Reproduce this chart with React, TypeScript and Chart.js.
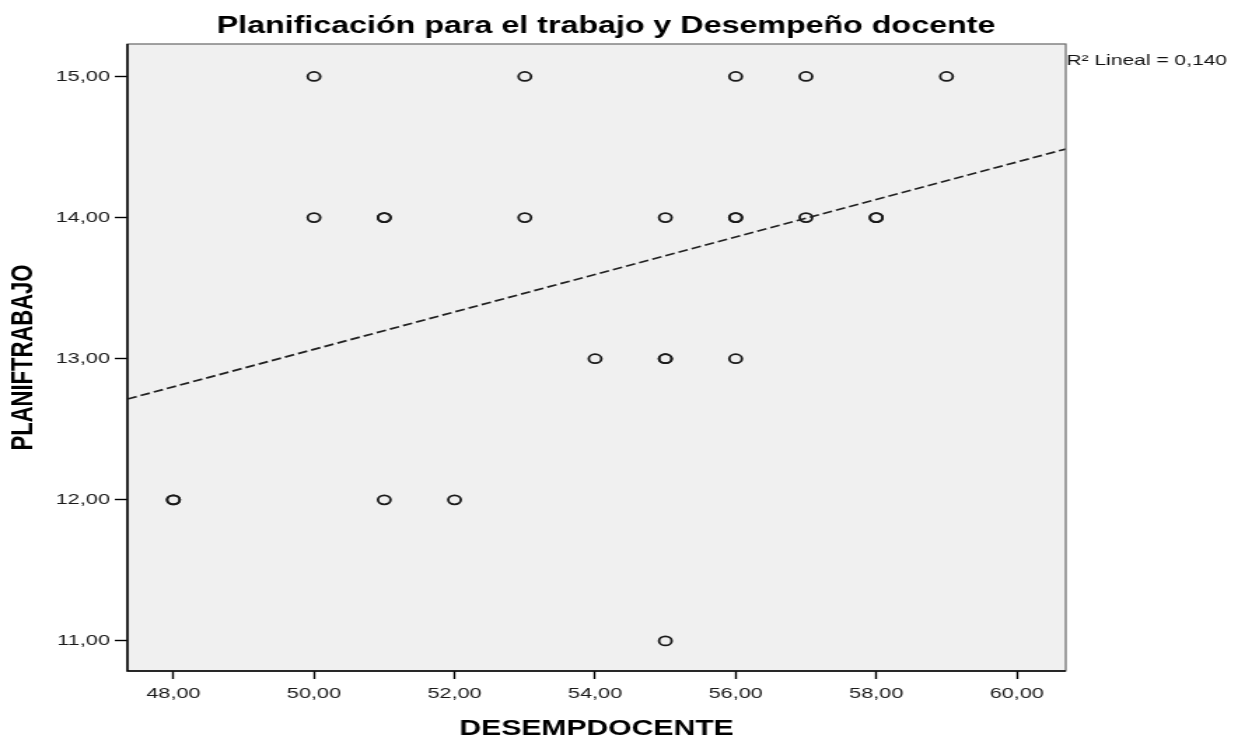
import React, { useEffect, useRef } from "react";
import { Chart, registerables } from "chart.js";

Chart.register(...registerables);

const TITLE = "Planificación para el trabajo y Desempeño docente";
const X_TITLE = "DESEMPDOCENTE";
const Y_TITLE = "PLANIFTRABAJO";
const FIT_LABEL = "R² Lineal = 0,140";

// observed points (repeated pairs are overlapping cases)
const DESEMP = [50, 53, 56, 57, 59, 50, 51, 51, 53, 55, 56, 56, 57, 58, 58, 54, 55, 55, 56, 48, 48, 51, 52, 55];
const PLANIF = [15, 15, 15, 15, 15, 14, 14, 14, 14, 14, 14, 14, 14, 14, 14, 13, 13, 13, 13, 12, 12, 12, 12, 11];

// fitted line end points
const FIT_X = [47.346, 60.697];
const FIT_Y = [12.714, 14.486];

const X_TICKS = [48, 50, 52, 54, 56, 58, 60];
const Y_TICKS = [11, 12, 13, 14, 15];
const X_RANGE = [47.346, 60.697];
const Y_RANGE = [10.787, 15.23];

const CSS_W = 1245;
const CSS_H = 738;
const INNER_W = 889;
const S = CSS_W / INNER_W;

const fmt = (v: number) => Number(v).toFixed(2).replace(".", ",");

export default function App() {
  const ref = useRef<HTMLCanvasElement | null>(null);

  useEffect(() => {
    if (!ref.current) return;
    const decor = {
      id: "decor",
      beforeDraw(chart: any) {
        const { ctx, chartArea: a } = chart;
        ctx.save();
        ctx.fillStyle = "#f0f0f0";
        ctx.fillRect(a.left, a.top, a.right - a.left, a.bottom - a.top);
        ctx.restore();
      },
      afterDraw(chart: any) {
        const { ctx, chartArea: a } = chart;
        ctx.save();
        ctx.strokeStyle = "#666";
        ctx.lineWidth = 1.2;
        ctx.strokeRect(a.left, a.top, a.right - a.left, a.bottom - a.top);
        ctx.strokeStyle = "#000";
        ctx.lineWidth = 1.5;
        ctx.beginPath();
        ctx.moveTo(a.left, a.top);
        ctx.lineTo(a.left, a.bottom);
        ctx.lineTo(a.right, a.bottom);
        ctx.stroke();
        ctx.fillStyle = "#000";
        ctx.textAlign = "center";
        ctx.textBaseline = "alphabetic";
        ctx.font = 'bold 23px "Liberation Sans", Arial, sans-serif';
        ctx.fillText(TITLE, 606 / S, 33);
        ctx.textAlign = "left";
        ctx.font = '15px "Liberation Sans", Arial, sans-serif';
        ctx.fillStyle = "#111";
        ctx.fillText(FIT_LABEL, a.right + 0.5, 65);
        ctx.restore();
      },
    };

    const chart = new Chart(ref.current, {
      type: "scatter",
      data: {
        datasets: [
          {
            type: "line",
            data: FIT_X.map((x, i) => ({ x, y: FIT_Y[i] })),
            borderColor: "#222",
            borderWidth: 1.7,
            borderDash: [7, 3],
            pointRadius: 0,
            fill: false,
          } as any,
          {
            data: DESEMP.map((x, i) => ({ x, y: PLANIF[i] })),
            pointStyle: "circle",
            pointRadius: 4.5,
            pointBorderWidth: 1.8,
            borderColor: "#1a1a1a",
            backgroundColor: "rgba(0,0,0,0)",
            pointBackgroundColor: "rgba(0,0,0,0)",
          },
        ],
      },
      options: {
        animation: false,
        responsive: false,
        devicePixelRatio: 1,
        layout: { padding: { left: 0, right: 128, top: 44, bottom: 0 } },
        plugins: {
          legend: { display: false },
          tooltip: { enabled: false },
          title: { display: false },
        },
        scales: {
          x: {
            type: "linear",
            min: X_RANGE[0],
            max: X_RANGE[1],
            afterBuildTicks: (axis: any) => {
              axis.ticks = X_TICKS.map((v) => ({ value: v }));
            },
            afterFit: (axis: any) => {
              axis.height = 67;
            },
            ticks: {
              callback: (v: any) => fmt(v),
              font: { family: '"Liberation Sans", Arial, sans-serif', size: 15.5 },
              color: "#1a1a1a",
              padding: 5,
              maxRotation: 0,
              autoSkip: false,
            },
            grid: {
              display: true,
              drawOnChartArea: false,
              drawTicks: true,
              tickLength: 8,
              tickColor: "#000",
              tickWidth: 1.4,
            },
            border: { display: false },
            title: {
              display: true,
              text: X_TITLE,
              font: { family: '"Liberation Sans", Arial, sans-serif', size: 21.5, weight: "bold" },
              color: "#000",
              padding: { top: 0, bottom: -4 },
            },
          },
          y: {
            type: "linear",
            min: Y_RANGE[0],
            max: Y_RANGE[1],
            afterBuildTicks: (axis: any) => {
              axis.ticks = Y_TICKS.map((v) => ({ value: v }));
            },
            afterFit: (axis: any) => {
              axis.width = 91;
            },
            ticks: {
              callback: (v: any) => fmt(v),
              font: { family: '"Liberation Sans", Arial, sans-serif', size: 15.5 },
              color: "#1a1a1a",
              padding: 3.5,
              autoSkip: false,
            },
            grid: {
              display: true,
              drawOnChartArea: false,
              drawTicks: true,
              tickLength: 9,
              tickColor: "#000",
              tickWidth: 1.4,
            },
            border: { display: false },
            title: {
              display: true,
              text: Y_TITLE,
              font: { family: '"Liberation Sans", Arial, sans-serif', size: 22, weight: "bold" },
              color: "#000",
              padding: { top: 4, bottom: 0 },
            },
          },
        },
      },
      plugins: [decor],
    } as any);
    return () => chart.destroy();
  }, []);

  return (
    <div style={{ position: "fixed", left: 0, top: 0, width: CSS_W, height: CSS_H, background: "#fff" }}>
      <canvas
        ref={ref}
        width={INNER_W}
        height={CSS_H}
        style={{ width: CSS_W + "px", height: CSS_H + "px", display: "block" }}
      />
    </div>
  );
}
